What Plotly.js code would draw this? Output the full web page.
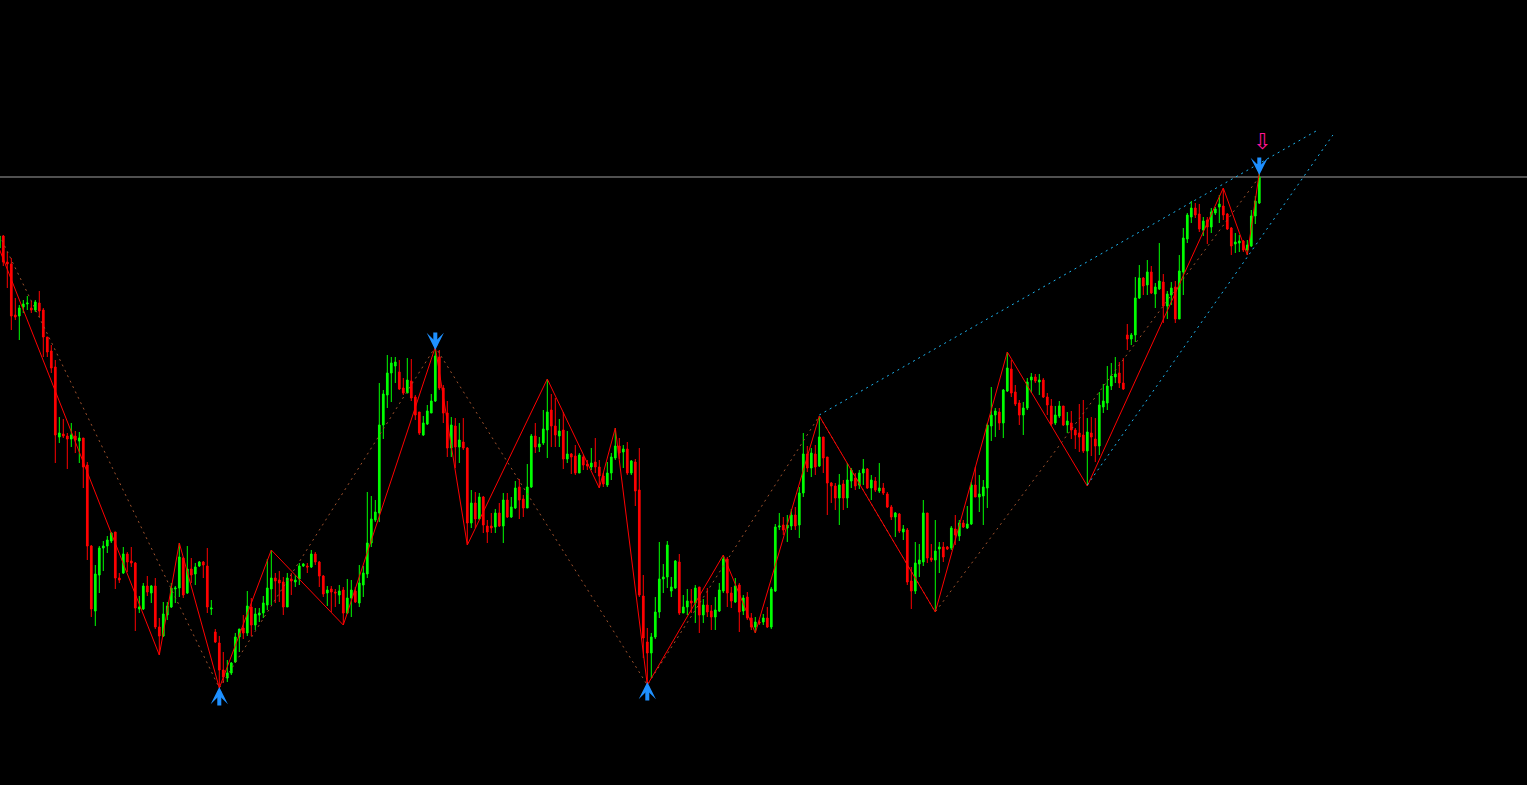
<!DOCTYPE html>
<html>
<head>
<meta charset="utf-8">
<script src="https://cdn.plot.ly/plotly-3.0.1.min.js"></script>
<style>
html,body{margin:0;padding:0;background:#000;overflow:hidden;}
#chart{width:1527px;height:785px;}
</style>
</head>
<body>
<div id="chart"></div>
<script>
// ---- candle data (price units, bar index 0..315) ----
const openP = [752,764,738,736,685,684,693,696,692,690,
697,690,663,649,633,563,566,564,561,564,
559,562,535,454,389,425,452,454,459,468,
422,427,446,439,437,391,391,414,407,414,
373,364,385,393,411,412,442,407,431,426,
434,438,434,391,368,357,330,322,327,338,
363,372,367,393,375,385,387,395,411,422,
420,418,393,421,418,421,434,434,433,446,
438,424,407,411,408,405,410,387,402,409,
397,415,426,457,480,487,575,605,627,634,
628,612,607,619,603,588,565,576,587,599,
643,612,587,552,574,553,558,552,477,497,
481,503,474,474,473,487,474,500,483,492,
513,501,492,513,564,553,557,570,590,574,
564,570,541,546,544,527,543,536,533,538,
533,524,515,527,542,554,548,551,527,538,
510,404,358,347,363,388,421,423,409,412,
438,387,393,399,397,413,385,395,389,383,
389,409,441,407,398,415,389,403,382,373,
378,378,382,373,409,473,475,472,474,485,
475,507,546,532,546,534,563,543,517,514,
502,516,502,519,522,515,527,531,512,519,
509,512,506,493,483,486,468,470,419,409,
436,438,487,442,440,451,453,453,452,471,
464,477,472,476,515,503,504,512,574,585,
588,577,609,631,608,597,585,592,620,623,
618,620,603,594,577,584,594,575,577,570,
567,565,549,567,561,554,593,597,614,623,
627,617,665,661,665,702,722,715,728,706,
711,718,694,705,713,681,728,761,783,792,
786,770,780,773,787,793,794,786,772,756,
757,759,750,754,784,797];
const highP = [766,765,748,742,702,695,700,704,699,700,
709,692,663,655,640,583,581,567,577,569,
568,562,538,455,435,454,459,464,468,468,
427,453,448,453,438,404,417,424,415,422,
382,398,398,417,414,457,443,454,442,437,
439,439,452,400,371,364,348,340,338,367,
371,385,409,402,392,392,404,441,450,427,
429,423,427,427,425,437,437,437,450,448,
439,425,414,414,411,415,413,421,420,413,
435,434,508,504,500,617,610,645,643,643,
640,622,642,641,605,588,584,595,606,653,
650,615,599,583,582,577,582,553,510,508,
507,504,480,487,491,497,507,507,503,519,
521,505,536,566,577,563,590,621,606,602,
581,588,569,547,555,547,545,540,552,562,
540,527,538,547,572,562,555,558,540,541,
552,425,372,367,403,458,436,459,423,440,
446,405,411,411,415,413,401,412,395,403,
417,445,443,413,422,417,405,408,387,383,
380,386,393,413,476,487,483,485,491,493,
513,567,554,552,555,584,563,543,518,517,
526,520,537,532,527,530,541,532,525,523,
537,517,508,495,488,487,475,472,433,458,
456,500,487,456,480,458,458,454,474,485,
480,480,494,518,533,525,520,577,613,592,
592,611,648,640,615,600,598,622,627,626,
626,622,607,601,594,599,594,588,589,572,
596,600,582,583,582,608,616,634,637,643,
638,642,676,667,723,735,723,740,734,717,
757,726,709,718,719,745,772,787,799,797,
796,783,783,792,793,805,812,787,773,767,
765,760,760,790,804,827];
const lowP = [745,734,712,670,680,660,687,690,687,688,
683,643,643,627,537,557,562,531,553,547,
537,512,440,383,374,407,429,447,457,411,
417,426,428,433,369,387,390,404,397,371,
345,363,380,392,397,403,402,406,417,415,
433,422,387,385,357,312,317,318,325,337,
348,361,364,364,370,378,382,390,395,397,
398,385,393,405,413,415,433,427,432,435,
413,403,394,388,393,396,375,386,383,397,
393,403,422,453,478,478,561,592,598,617,
610,605,607,599,580,565,564,575,587,598,
610,577,543,543,532,537,550,455,472,472,
480,467,457,467,467,473,457,482,482,491,
481,483,492,512,547,548,555,542,553,553,
553,531,537,526,525,527,530,530,530,527,
512,513,513,520,540,541,532,525,525,494,
403,342,315,322,361,382,407,412,403,411,
385,387,385,387,377,367,377,383,370,370,
388,407,393,392,397,368,385,380,370,367,
375,375,372,371,408,470,465,458,470,470,
462,503,528,523,525,533,527,485,497,490,
475,490,492,512,510,511,515,511,500,508,
507,505,492,480,463,467,460,415,391,406,
423,434,437,438,388,427,438,450,450,455,
459,472,471,475,503,488,475,492,559,563,
570,562,608,603,594,575,565,590,607,617,
605,602,585,574,575,582,574,567,561,551,
548,547,514,544,538,545,587,590,610,617,
612,610,650,655,658,701,705,705,706,692,
710,677,681,695,677,681,705,757,777,782,
768,764,756,767,785,777,780,770,745,747,
748,748,745,753,776,796];
const closeP = [764,738,736,684,683,692,696,697,690,698,
689,663,648,632,565,567,564,561,565,560,
562,533,454,391,426,452,454,460,467,422,
420,446,438,437,392,393,414,408,414,373,
364,386,394,412,412,443,405,431,425,433,
438,435,393,392,358,330,323,327,337,363,
371,367,394,375,386,387,397,412,422,419,
417,393,422,419,420,434,436,433,446,438,
424,406,410,408,407,409,387,402,410,398,
417,427,457,481,488,575,606,627,637,638,
611,607,620,602,585,567,577,589,599,644,
612,587,552,575,553,560,552,477,497,481,
503,475,468,472,487,474,500,483,493,512,
500,492,513,564,553,556,571,588,574,565,
569,541,546,543,527,545,535,534,537,533,
524,516,527,543,554,547,551,527,539,509,
405,362,347,363,388,421,423,455,413,439,
387,393,399,397,412,385,395,388,383,390,
410,441,407,399,414,388,402,382,373,378,
377,382,373,411,473,474,470,475,485,474,
507,546,532,547,533,563,542,517,514,502,
515,502,520,530,514,527,531,512,520,510,
512,507,493,483,487,469,471,418,409,437,
440,487,442,440,449,453,443,451,472,465,
477,473,476,515,503,506,513,575,585,589,
577,610,632,607,596,585,592,618,623,619,
620,603,595,576,585,594,575,579,570,565,
563,549,568,563,554,595,599,614,624,626,
617,611,661,665,702,722,714,728,707,713,
719,694,706,712,681,729,762,785,792,785,
771,779,773,788,791,796,785,771,754,758,
759,750,755,784,799,823];

// ---- zigzag (small swings, red solid) ----
const zigX = [0,40,45,55,68,86,109,117,137,150,154,162,181,189,205,234,252,272,306,312,315];
const zigY = [751,345,457,312,450,375,653,455,621,512,572,315,445,367,584,388,648,514,812,745,827];
// ---- zigzag (large swings, dotted) ----
const swingX = [0,55,109,162,205,234,315];
const swingY = [765,312,653,315,584,388,823];
// ---- channel trend lines (cyan dotted) ----
const trendUpperX = [205,329.2];
const trendUpperY = [585,869];
const trendLowerX = [272,333.4];
const trendLowerY = [515,865];
// ---- horizontal level ----
const levelPrice = [823];
// ---- arrow signals (arrow tip positions) ----
const arrowUpX = [55,162];
const arrowUpY = [313,318];
const arrowDownX = [109,315];
const arrowDownY = [650,825];
const signalX = [315.7];
const signalY = [857];

const barIndex = openP.map((_, i) => i);

const traces = [
  {
    type: 'candlestick',
    x: barIndex, open: openP, high: highP, low: lowP, close: closeP,
    increasing: {line: {color: '#00ff00', width: 1}, fillcolor: '#00ff00'},
    decreasing: {line: {color: '#ff0000', width: 1}, fillcolor: '#ff0000'},
    whiskerwidth: 0,
    hoverinfo: 'skip'
  },
  {
    type: 'scatter', mode: 'lines', x: swingX, y: swingY,
    line: {color: '#a0522d', width: 1, dash: '2px,4px'}, hoverinfo: 'skip'
  },
  {
    type: 'scatter', mode: 'lines', x: zigX, y: zigY,
    line: {color: '#ff0000', width: 1}, hoverinfo: 'skip'
  },
  {
    type: 'scatter', mode: 'lines', x: trendUpperX, y: trendUpperY,
    line: {color: '#1eb4f0', width: 1, dash: '2px,4px'}, hoverinfo: 'skip'
  },
  {
    type: 'scatter', mode: 'lines', x: trendLowerX, y: trendLowerY,
    line: {color: '#1eb4f0', width: 1, dash: '2px,4px'}, hoverinfo: 'skip'
  },
  {
    type: 'scatter', mode: 'text', x: signalX, y: signalY,
    text: signalX.map(() => '⇩'), textposition: 'middle center',
    textfont: {family: 'DejaVu Sans', size: 22, color: '#ff1493'}, hoverinfo: 'skip'
  }
];

const arrowStyle = {
  text: '', showarrow: true, arrowhead: 3, arrowsize: 0.72, arrowwidth: 4,
  arrowcolor: '#1e90ff', ax: 0, standoff: 0, startstandoff: 0
};
const annotations = [
  ...arrowUpX.map((x, i) => Object.assign({}, arrowStyle, {x: x, y: arrowUpY[i], xref: 'x', yref: 'y', ay: 20})),
  ...arrowDownX.map((x, i) => Object.assign({}, arrowStyle, {x: x, y: arrowDownY[i], xref: 'x', yref: 'y', ay: -19}))
];

const layout = {
  width: 1527, height: 785,
  margin: {l: 0, r: 0, t: 0, b: 0, pad: 0},
  paper_bgcolor: '#000000', plot_bgcolor: '#000000',
  showlegend: false,
  boxgap: 0.4,
  xaxis: {range: [0.175, 381.925], visible: false, showgrid: false, zeroline: false,
          rangeslider: {visible: false}, fixedrange: true},
  yaxis: {range: [215, 1000], visible: false, showgrid: false, zeroline: false, fixedrange: true},
  annotations: annotations,
  shapes: levelPrice.map(p => ({
    type: 'line', xref: 'paper', x0: 0, x1: 1, yref: 'y', y0: p, y1: p,
    line: {color: '#a0a0a0', width: 1}, layer: 'below'
  }))
};

Plotly.newPlot('chart', traces, layout, {displayModeBar: false, staticPlot: true});
</script>
</body>
</html>
